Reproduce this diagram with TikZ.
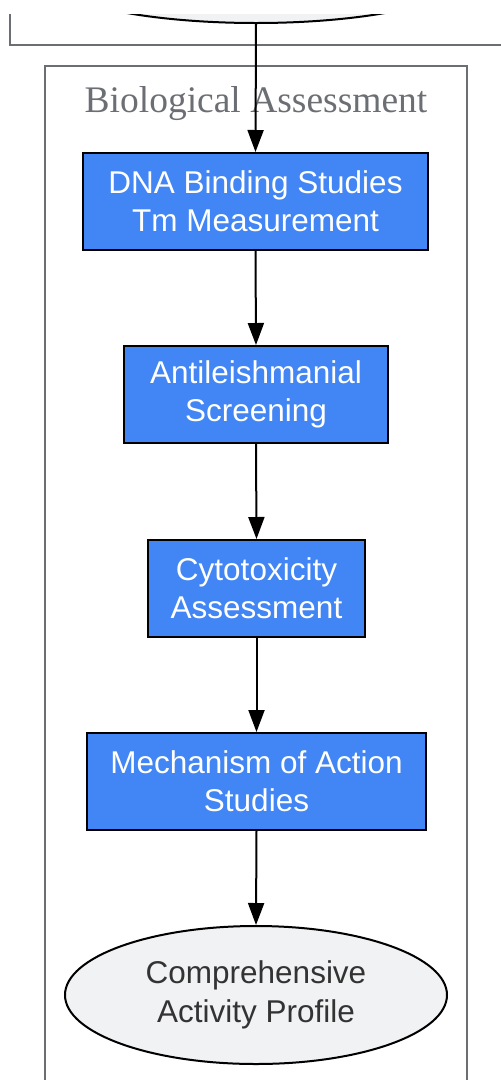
\documentclass[tikz,border=0pt]{standalone}
\usepackage{fontspec}
\usetikzlibrary{arrows.meta,shapes.geometric}
\newfontfamily\boxfont{Liberation Sans}
\newfontfamily\titlefont{Liberation Serif}
\definecolor{boxblue}{HTML}{4285F4}
\definecolor{endfill}{HTML}{F1F2F4}
\definecolor{clgray}{HTML}{6B6E73}
\definecolor{endtext}{HTML}{333333}
\tikzset{
  stepbox/.style={draw=black, line width=2pt, fill=boxblue, text=white, align=center,
    inner sep=0pt, minimum height=97pt, font=\boxfont\fontsize{31.5}{38}\selectfont},
  endnode/.style={ellipse, draw=black, line width=2pt, fill=endfill, text=endtext, align=center,
    inner sep=0pt, font=\boxfont\fontsize{31.5}{39}\selectfont},
  flow/.style={line width=2pt, -{Triangle[length=22pt,width=16pt]}},
  cluster/.style={draw=clgray, line width=2pt}
}
\begin{document}
\begin{tikzpicture}[x=1pt,y=-1pt]
\useasboundingbox (0,0) rectangle (501,1080);
\begin{scope}
\clip (0,14) rectangle (501,1080);
% upper cluster (cut off)
\draw[cluster] (10,0) -- (10,45) -- (520,45);
% upper ellipse (cut off)
\node[endnode, minimum width=430pt, minimum height=100pt] (prev) at (256,-27) {};
% lower cluster
\draw[cluster] (45,1100) -- (45,66) -- (467,66) -- (467,1100);
\end{scope}
\node[text=clgray, font=\titlefont\fontsize{37.5}{40}\selectfont, anchor=base] (title) at (256,112) {Biological Assessment};

\node[stepbox, minimum width=345pt] (dna) at (255.5,201.5) {DNA Binding Studies\\Tm Measurement};
\node[stepbox, minimum width=264pt] (anti) at (256,394.5) {Antileishmanial\\Screening};
\node[stepbox, minimum width=217pt] (cyto) at (256.5,588.5) {Cytotoxicity\\Assessment};
\node[stepbox, minimum width=339pt] (mech) at (256.5,781.5) {Mechanism of Action\\Studies};
\node[endnode, minimum width=382pt, minimum height=138pt] (profile) at (256,995) {Comprehensive\\Activity Profile};

\draw[flow] (prev.south) -- (dna.north);
\draw[flow] (dna.south) -- (anti.north);
\draw[flow] (anti.south) -- (cyto.north);
\draw[flow] (cyto.south) -- (mech.north);
\draw[flow] (mech.south) -- (profile.north);
\end{tikzpicture}
\end{document}
